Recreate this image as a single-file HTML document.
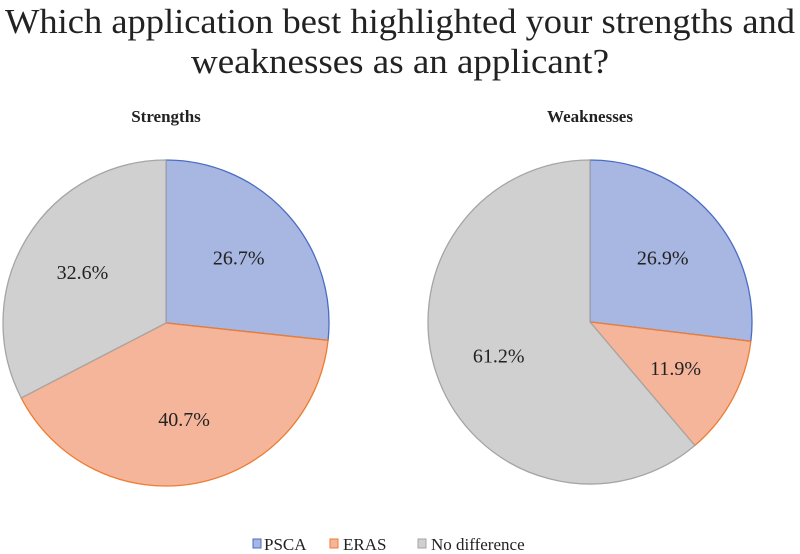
<!DOCTYPE html>
<html><head><meta charset="utf-8"><style>
body{margin:0;background:#fff;}
svg{display:block;font-family:"Liberation Serif",serif;}
</style></head><body>
<svg id="c" width="800" height="554" viewBox="0 0 800 554">
<text x="400" y="33" text-anchor="middle" font-size="35" textLength="790" lengthAdjust="spacingAndGlyphs" fill="#222">Which application best highlighted your strengths and</text>
<text x="400" y="73" text-anchor="middle" font-size="35" textLength="418" lengthAdjust="spacingAndGlyphs" fill="#222">weaknesses as an applicant?</text>
<g id="pies"></g>
<g>
<rect x="253" y="539" width="8" height="9" fill="#a8b6e2" stroke="#4a6cc4"/>
<text x="264" y="550" font-size="17" fill="#222">PSCA</text>
<rect x="330" y="539" width="8" height="9" fill="#f5b59b" stroke="#ed7d31"/>
<text x="343" y="550" font-size="17" fill="#222">ERAS</text>
<rect x="418" y="539" width="8" height="9" fill="#d0d0d0" stroke="#a5a5a5"/>
<text x="431" y="550" font-size="17" fill="#222">No difference</text>
</g>
</svg>
<script>
const categories = ["PSCA","ERAS","No difference"];
const strengthsValues = [26.7, 40.7, 32.6];
const weaknessesValues = [26.9, 11.9, 61.2];
const panelTitles = ["Strengths","Weaknesses"];
const fills = ["#a8b6e2","#f5b59b","#d0d0d0"];
const strokes = ["#4a6cc4","#ed7d31","#a5a5a5"];
const NS="http://www.w3.org/2000/svg";
const g=document.getElementById('pies');
function pie(vals,cx,cy,r,title,key){
  const t=document.createElementNS(NS,'text');
  t.setAttribute('x',cx);t.setAttribute('y',122);t.setAttribute('text-anchor','middle');
  t.setAttribute('font-size','17');t.setAttribute('font-weight','bold');t.setAttribute('fill','#222');
  t.textContent=title;
  
  
  g.appendChild(t);
  const tot=vals.reduce((a,b)=>a+b,0);
  let a0=0;
  vals.forEach((v,i)=>{
    const a1=a0+v/tot*2*Math.PI;
    const x0=cx+r*Math.sin(a0),y0=cy-r*Math.cos(a0),x1=cx+r*Math.sin(a1),y1=cy-r*Math.cos(a1);
    const p=document.createElementNS(NS,'path');
    p.setAttribute('d',`M${cx},${cy}L${x0},${y0}A${r},${r} 0 ${a1-a0>Math.PI?1:0} 1 ${x1},${y1}Z`);
    p.setAttribute('fill',fills[i]);p.setAttribute('stroke',strokes[i]);p.setAttribute('stroke-width','1.3');
    
    
    g.appendChild(p);
    const am=(a0+a1)/2,lr=r*0.6;
    const l=document.createElementNS(NS,'text');
    l.setAttribute('x',cx+lr*Math.sin(am));l.setAttribute('y',cy-lr*Math.cos(am)+7);
    l.setAttribute('text-anchor','middle');l.setAttribute('font-size','20');l.setAttribute('fill','#222');
    l.textContent=v.toFixed(1)+'%';
    
    
    g.appendChild(l);
    a0=a1;
  });
}
pie(strengthsValues,166,323,163,panelTitles[0],'strengths');
pie(weaknessesValues,590,322,162,panelTitles[1],'weaknesses');
</script>
</body></html>
